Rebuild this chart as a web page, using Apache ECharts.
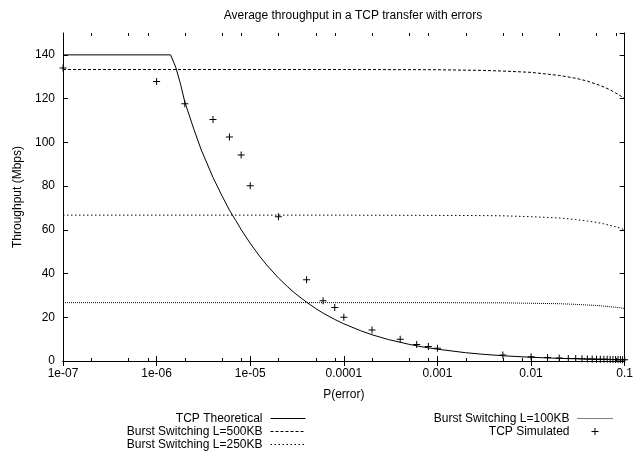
<!DOCTYPE html>
<html>
<head>
<meta charset="utf-8">
<script src="https://cdn.jsdelivr.net/npm/echarts@6/dist/echarts.min.js"></script>
<style>
  body { margin: 0; background: #fff; }
  #graphics { width: 636px; height: 452px; }
</style>
</head>
<body>
<div id="graphics"></div>
<script>
// tick labels
const xTickLabels = ["1e-07", "1e-06", "1e-05", "0.0001", "0.001", "0.01", "0.1"];
const yTicks = [0, 20, 40, 60, 80, 100, 120, 140];
// gnuplot style minor tics at 2, 5, 8 of each decade
const minorSteps = [2, 5, 8];

// TCP theoretical
const theoP = [1e-7, 1.41e-6, 1.6e-6, 1.8e-6, 2e-6, 2.5e-6, 3e-6, 4e-6, 5e-6, 6e-6, 7e-6, 8e-6,
    1e-5, 1.25e-5, 1.5e-5, 2e-5, 2.5e-5, 3e-5, 4e-5, 5e-5, 6e-5, 8e-5,
    1e-4, 1.5e-4, 2e-4, 3e-4, 5e-4, 7e-4, 1e-3, 2e-3, 3e-3, 5e-3, 1e-2, 2e-2, 5e-2, 0.1];
const theoT = [140, 140, 134.4, 126.7, 118.5, 106, 96.5, 84, 75.5, 69, 64.3, 60.1,
    53.8, 48.1, 43.9, 38, 34, 31, 26.9, 24, 21.9, 19,
    17, 13.9, 12, 9.8, 7.6, 6.4, 5.4, 3.8, 3.1, 2.4, 1.7, 1.2, 0.76, 0.54];

// burst switching lines
const burstP = [1e-7, 1e-4, 1e-3, 3e-3, 0.005, 0.01, 0.02, 0.03, 0.04, 0.05, 0.06, 0.07, 0.08, 0.09, 0.1];
const burst500 = [133.3, 133.3, 133.2, 132.9, 132.6, 132, 130.6, 129.3, 128, 126.6, 125.3, 124, 122.6, 121.3, 120];
const burst250 = [66.7, 66.7, 66.6, 66.5, 66.4, 66, 65.4, 64.7, 64, 63.4, 62.7, 62, 61.4, 60.7, 60];
const burst100 = [26.7, 26.7, 26.7, 26.6, 26.6, 26.4, 26.2, 25.9, 25.6, 25.4, 25.1, 24.8, 24.6, 24.3, 24];

// TCP simulated points
const simP = [1e-7, 1e-6, 2e-6, 4e-6, 6e-6, 8e-6, 1e-5, 2e-5, 4e-5, 6e-5, 8e-5,
    1e-4, 2e-4, 4e-4, 6e-4, 8e-4, 1e-3,
    0.005, 0.01, 0.015, 0.02, 0.025, 0.03, 0.035, 0.04, 0.045, 0.05,
    0.055, 0.06, 0.065, 0.07, 0.075, 0.08, 0.085, 0.09, 0.095, 0.1];
const simT = [134, 127.8, 117.7, 110.4, 102.4, 94.2, 80.1, 66, 37.2, 27.5, 24.5,
    20, 14.2, 9.9, 7.6, 6.6, 5.8,
    2.7, 2.0, 1.55, 1.35, 1.2, 1.1, 1.0, 0.95, 0.9, 0.85,
    0.8, 0.78, 0.75, 0.72, 0.7, 0.67, 0.65, 0.63, 0.62, 0.6];

const names = ["TCP Theoretical", "Burst Switching L=500KB", "Burst Switching L=250KB",
    "Burst Switching L=100KB", "TCP Simulated"];

const font = "Liberation Sans, Arial, Helvetica, sans-serif";
const xMin = 1e-7, xMax = 0.1, yMin = 0, yMax = 150;

function pairs(xs, ys) {
    let out = [];
    for (let i = 0; i < xs.length; i++) {
        out.push([xs[i], ys[i]]);
    }
    return out;
}

function minorTicks() {
    let out = [];
    for (let e = -7; e < -1; e++) {
        for (let i = 0; i < minorSteps.length; i++) {
            out.push([minorSteps[i] * Math.pow(10, e), 0]);
        }
    }
    return out;
}

function lineSeries(name, data, dash) {
    return {
        name: name,
        type: 'line',
        data: data,
        symbol: 'none',
        silent: true,
        animation: false,
        itemStyle: { color: '#000' },
        lineStyle: { color: '#000', width: 1, type: dash }
    };
}

// legend entry for a line: only the line sample, no dot
function lineItem(name) {
    return { name: name, itemStyle: { opacity: 0 } };
}

function legendBox(data, right) {
    return {
        data: data,
        orient: 'vertical',
        align: 'right',
        right: right,
        top: 412.5,
        padding: 0,
        itemWidth: 35,
        itemHeight: 7,
        itemGap: 1,
        selectedMode: false,
        lineStyle: { width: 1 },
        textStyle: { fontFamily: font, fontSize: 12, color: '#000', padding: [0, 3, 0, 0] }
    };
}

const plus = 'path://M0,3H3V0H4V3H7V4H4V7H3V4H0Z';

var myChart = echarts.init(document.getElementById('graphics'));

var option = {
    animation: false,
    backgroundColor: '#fff',
    title: {
        text: 'Average throughput in a TCP transfer with errors',
        left: 348,
        top: 5,
        textAlign: 'center',
        textStyle: { fontFamily: font, fontSize: 12, fontWeight: 'normal', color: '#000' }
    },
    grid: { left: 63, right: 4, top: 33, bottom: 91 },
    legend: [
        legendBox([lineItem(names[0]), lineItem(names[1]), lineItem(names[2])], 330),
        legendBox([lineItem(names[3]), names[4]], 23)
    ],
    xAxis: [
        {
            type: 'log',
            logBase: 10,
            min: xMin,
            max: xMax,
            name: 'P(error)',
            nameLocation: 'middle',
            nameGap: 28,
            nameTextStyle: { fontFamily: font, fontSize: 12, color: '#000' },
            axisLine: { lineStyle: { color: '#000', width: 1 } },
            axisTick: { inside: true, length: 5, lineStyle: { color: '#000' } },
            axisLabel: {
                fontFamily: font, fontSize: 12, color: '#000', margin: 7,
                formatter: function (v) {
                    return xTickLabels[Math.round(Math.log10(v)) + 7];
                }
            },
            splitLine: { show: false }
        },
        {
            type: 'log',
            logBase: 10,
            min: xMin,
            max: xMax,
            position: 'top',
            axisLine: { lineStyle: { color: '#000', width: 1 } },
            axisTick: { inside: true, length: 5, lineStyle: { color: '#000' } },
            axisLabel: { show: false },
            splitLine: { show: false }
        }
    ],
    yAxis: [
        {
            type: 'value',
            min: yMin,
            max: yMax,
            interval: 20,
            name: 'Throughput (Mbps)',
            nameLocation: 'middle',
            nameGap: 33,
            nameTextStyle: { fontFamily: font, fontSize: 12, color: '#000' },
            axisLine: { show: true, lineStyle: { color: '#000', width: 1 } },
            axisTick: { inside: true, length: 5, lineStyle: { color: '#000' } },
            axisLabel: {
                fontFamily: font, fontSize: 12, color: '#000', margin: 8,
                showMaxLabel: false,
                formatter: function (v) {
                    return yTicks.indexOf(v) >= 0 ? String(v) : '';
                }
            },
            splitLine: { show: false }
        },
        {
            type: 'value',
            min: yMin,
            max: yMax,
            interval: 20,
            position: 'right',
            axisLine: { show: true, lineStyle: { color: '#000', width: 1 } },
            axisTick: { inside: true, length: 5, lineStyle: { color: '#000' } },
            axisLabel: { show: false },
            splitLine: { show: false }
        }
    ],
    series: [
        lineSeries(names[0], pairs(theoP, theoT), 'solid'),
        lineSeries(names[1], pairs(burstP, burst500), [3, 2]),
        lineSeries(names[2], pairs(burstP, burst250), [1.5, 2.5]),
        lineSeries(names[3], pairs(burstP, burst100), [1, 1]),
        {
            name: names[4],
            type: 'scatter',
            data: pairs(simP, simT),
            symbol: plus,
            symbolSize: 7,
            silent: true,
            clip: false,
            itemStyle: { color: '#000', opacity: 1 }
        },
        {
            // minor tics on bottom and top border
            type: 'custom',
            silent: true,
            data: minorTicks(),
            renderItem: function (params, api) {
                let b = api.coord([api.value(0), yMin]);
                let t = api.coord([api.value(0), yMax]);
                let x = Math.round(b[0]) + 0.5;
                return {
                    type: 'group',
                    children: [
                        { type: 'line', shape: { x1: x, y1: b[1], x2: x, y2: b[1] - 3 }, style: { stroke: '#000', lineWidth: 1 } },
                        { type: 'line', shape: { x1: x, y1: t[1], x2: x, y2: t[1] + 3 }, style: { stroke: '#000', lineWidth: 1 } }
                    ]
                };
            }
        }
    ]
};

myChart.setOption(option);
</script>
</body>
</html>
